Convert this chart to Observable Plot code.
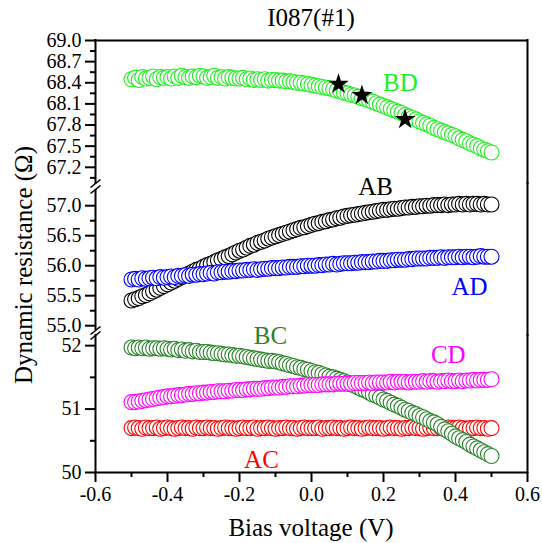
<!DOCTYPE html>
<html><head><meta charset="utf-8">
<script src="https://cdn.jsdelivr.net/npm/d3@7"></script>
<script src="https://cdn.jsdelivr.net/npm/@observablehq/plot@0.6"></script>
<style>
html,body{margin:0;padding:0;background:#fff;}
#wrap{position:relative;width:542px;height:543px;font-family:"Liberation Serif",serif;color:#000;overflow:hidden;}
#wrap svg{position:absolute;left:0;overflow:visible;background:transparent;}
.lbl{position:absolute;white-space:nowrap;font-family:"Liberation Serif",serif;}
</style></head>
<body>
<div id="wrap">
  <div class="lbl" style="left:211px;width:200px;text-align:center;top:3px;line-height:30px;font-size:25px;">I087(#1)</div>
  <div class="lbl" style="left:24px;top:265px;font-size:25px;line-height:30px;transform:translate(-50%,-50%) rotate(-90deg);">Dynamic resistance (Ω)</div>
  <div class="lbl" style="left:161px;width:300px;text-align:center;top:513px;line-height:30px;font-size:25px;">Bias voltage (V)</div>
</div>
<script>
const voltage = [
-0.50,-0.49,-0.48,-0.47,-0.46,-0.45,-0.44,-0.43,-0.42,-0.41,
-0.40,-0.39,-0.38,-0.37,-0.36,-0.35,-0.34,-0.33,-0.32,-0.31,
-0.30,-0.29,-0.28,-0.27,-0.26,-0.25,-0.24,-0.23,-0.22,-0.21,
-0.20,-0.19,-0.18,-0.17,-0.16,-0.15,-0.14,-0.13,-0.12,-0.11,
-0.10,-0.09,-0.08,-0.07,-0.06,-0.05,-0.04,-0.03,-0.02,-0.01,
0.00,0.01,0.02,0.03,0.04,0.05,0.06,0.07,0.08,0.09,
0.10,0.11,0.12,0.13,0.14,0.15,0.16,0.17,0.18,0.19,
0.20,0.21,0.22,0.23,0.24,0.25,0.26,0.27,0.28,0.29,
0.30,0.31,0.32,0.33,0.34,0.35,0.36,0.37,0.38,0.39,
0.40,0.41,0.42,0.43,0.44,0.45,0.46,0.47,0.48,0.49,
0.50];

const seriesBD = [
68.45,68.47,68.44,68.48,68.46,68.47,68.49,68.45,68.48,68.47,
68.48,68.46,68.49,68.47,68.50,68.48,68.47,68.49,68.48,68.50,
68.49,68.47,68.48,68.50,68.47,68.48,68.46,68.48,68.47,68.46,
68.46,68.47,68.45,68.46,68.44,68.45,68.44,68.45,68.43,68.44,
68.44,68.43,68.43,68.42,68.42,68.41,68.40,68.40,68.39,68.38,
68.37,68.36,68.35,68.34,68.33,68.32,68.31,68.29,68.28,68.26,
68.25,68.23,68.22,68.20,68.18,68.17,68.15,68.13,68.11,68.09,
68.07,68.05,68.03,68.01,67.99,67.97,67.94,67.92,67.90,67.88,
67.85,67.83,67.81,67.79,67.76,67.74,67.72,67.70,67.68,67.66,
67.64,67.61,67.59,67.57,67.54,67.52,67.50,67.47,67.45,67.43,
67.41];

const seriesAB = [
55.42,55.44,55.46,55.49,55.51,55.54,55.57,55.60,55.63,55.66,
55.69,55.72,55.75,55.78,55.81,55.84,55.87,55.90,55.93,55.95,
55.98,56.01,56.03,56.06,56.09,56.11,56.14,56.16,56.19,56.22,
56.25,56.27,56.30,56.33,56.35,56.38,56.40,56.42,56.45,56.47,
56.49,56.51,56.53,56.55,56.57,56.59,56.61,56.63,56.64,56.66,
56.68,56.70,56.71,56.73,56.74,56.76,56.77,56.79,56.80,56.82,
56.83,56.84,56.85,56.86,56.87,56.88,56.89,56.90,56.91,56.92,
56.93,56.93,56.94,56.95,56.95,56.96,56.97,56.97,56.98,56.98,
56.99,56.99,57.00,57.00,57.01,57.01,57.01,57.02,57.01,57.02,
57.02,57.03,57.02,57.03,57.02,57.03,57.03,57.02,57.03,57.02,
57.02];

const seriesAD = [
55.77,55.78,55.77,55.79,55.78,55.79,55.80,55.79,55.81,55.80,
55.81,55.82,55.81,55.83,55.83,55.84,55.83,55.85,55.85,55.86,
55.86,55.87,55.88,55.87,55.89,55.89,55.90,55.90,55.91,55.91,
55.92,55.92,55.93,55.93,55.94,55.93,55.94,55.95,55.95,55.96,
55.96,55.96,55.97,55.97,55.98,55.98,55.98,55.99,55.99,56.00,
56.00,56.00,56.01,56.01,56.02,56.02,56.03,56.02,56.03,56.04,
56.04,56.04,56.05,56.05,56.06,56.06,56.06,56.07,56.07,56.08,
56.08,56.08,56.09,56.09,56.10,56.10,56.10,56.11,56.11,56.12,
56.12,56.12,56.12,56.13,56.13,56.13,56.14,56.13,56.14,56.14,
56.14,56.15,56.14,56.15,56.15,56.14,56.15,56.16,56.15,56.15,
56.15];

const seriesBC = [
51.97,51.96,51.97,51.96,51.97,51.95,51.96,51.96,51.95,51.96,
51.95,51.94,51.95,51.93,51.94,51.92,51.93,51.91,51.92,51.90,
51.90,51.90,51.89,51.88,51.88,51.87,51.86,51.86,51.85,51.84,
51.84,51.83,51.82,51.81,51.80,51.79,51.78,51.77,51.76,51.76,
51.75,51.74,51.72,51.71,51.69,51.68,51.66,51.65,51.63,51.62,
51.60,51.58,51.57,51.55,51.53,51.51,51.50,51.48,51.46,51.44,
51.42,51.39,51.37,51.34,51.31,51.29,51.26,51.23,51.21,51.18,
51.15,51.13,51.10,51.07,51.05,51.02,50.99,50.97,50.94,50.92,
50.89,50.87,50.84,50.81,50.79,50.76,50.72,50.68,50.65,50.61,
50.57,50.54,50.51,50.48,50.44,50.41,50.38,50.35,50.32,50.29,
50.26];

const seriesCD = [
51.11,51.11,51.12,51.13,51.14,51.15,51.16,51.17,51.18,51.19,
51.20,51.20,51.21,51.22,51.22,51.23,51.24,51.24,51.25,51.25,
51.26,51.26,51.27,51.27,51.28,51.28,51.28,51.29,51.29,51.30,
51.30,51.30,51.31,51.31,51.32,51.32,51.32,51.33,51.33,51.34,
51.34,51.34,51.35,51.35,51.36,51.36,51.36,51.37,51.37,51.38,
51.38,51.38,51.38,51.39,51.39,51.39,51.39,51.40,51.40,51.40,
51.40,51.40,51.41,51.41,51.41,51.41,51.42,51.41,51.42,51.42,
51.42,51.42,51.43,51.42,51.43,51.43,51.43,51.42,51.43,51.43,
51.43,51.44,51.43,51.44,51.44,51.43,51.44,51.44,51.45,51.44,
51.44,51.45,51.44,51.45,51.45,51.46,51.45,51.46,51.46,51.46,
51.47];

const seriesAC = [
50.70,50.71,50.70,50.69,50.71,50.70,50.70,50.71,50.69,50.70,
50.71,50.70,50.69,50.70,50.71,50.70,50.70,50.69,50.71,50.70,
50.70,50.71,50.70,50.70,50.69,50.70,50.71,50.70,50.70,50.69,
50.70,50.71,50.70,50.70,50.71,50.69,50.70,50.70,50.71,50.70,
50.69,50.70,50.70,50.71,50.70,50.70,50.69,50.70,50.71,50.70,
50.70,50.70,50.71,50.69,50.70,50.70,50.71,50.70,50.70,50.69,
50.70,50.71,50.70,50.70,50.69,50.70,50.71,50.70,50.70,50.70,
50.69,50.70,50.71,50.70,50.70,50.69,50.70,50.70,50.71,50.70,
50.70,50.69,50.70,50.71,50.70,50.70,50.70,50.69,50.71,50.70,
50.70,50.71,50.70,50.69,50.70,50.70,50.71,50.70,50.70,50.69,
50.70];

const starVoltage = [0.075, 0.14, 0.26];
const starResistance = [68.38, 68.22, 67.88];

const seriesNames = ["BD", "AB", "AD", "BC", "CD", "AC"];
const seriesColors = ["#22ee22", "#000000", "#0000ff", "#2a822a", "#ff00ff", "#ff0000"];
const labelVoltage = [0.247, 0.178, 0.439, -0.114, 0.38, -0.139];
const labelResistance = [68.40, 57.32, 55.65, 52.15, 51.86, 50.20];

const xTicks = [-0.6, -0.4, -0.2, 0.0, 0.2, 0.4, 0.6];
const xMinor = [-0.5, -0.3, -0.1, 0.1, 0.3, 0.5];
const topTicks = [67.2, 67.5, 67.8, 68.1, 68.4, 68.7, 69.0];
const topMinor = [67.05, 67.35, 67.65, 67.95, 68.25, 68.55, 68.85];
const midTicks = [55.0, 55.5, 56.0, 56.5, 57.0];
const midMinor = [55.25, 55.75, 56.25, 56.75];
const botTicks = [50, 51, 52];
const botMinor = [50.5, 51.5];

const W = 542, ML = 95, MR = 15;
const xDomain = [-0.6, 0.6];
const FONT = "Liberation Serif";
const TICKFONT = 20;
const seriesData = {BD: seriesBD, AB: seriesAB, AD: seriesAD, BC: seriesBC, CD: seriesCD, AC: seriesAC};
const rows = name => voltage.map((v, i) => ({v, r: seriesData[name][i]}));
const colorOf = name => seriesColors[seriesNames.indexOf(name)];
const labelRows = names => names.map(n => {
  const i = seriesNames.indexOf(n);
  return {name: n, v: labelVoltage[i], r: labelResistance[i], c: seriesColors[i]};
});

function dots(name) {
  return Plot.dot(rows(name), {x: "v", y: "r", r: 7.5, stroke: colorOf(name), fill: "white", strokeWidth: 1.1});
}
function labels(names) {
  return Plot.text(labelRows(names), {x: "v", y: "r", text: "name", fill: "c", fontSize: 25, fontFamily: FONT});
}
// small diagonal break mark on the left axis at a given y value
function breakMark(yv, pxPerUnit) {
  const dx = 5 / ((W - ML - MR) / 1.2), dy = 4 / pxPerUnit;
  return Plot.link([{y: yv}], {x1: () => xDomain[0] - dx, x2: () => xDomain[0] + dx,
    y1: d => d.y - dy, y2: d => d.y + dy, stroke: "black", strokeWidth: 1.6});
}
function yAxes(major, minor, fmt) {
  return [
    Plot.axisY(major, {tickSize: 10, tickPadding: 4, tickFormat: fmt, strokeWidth: 2, fontSize: TICKFONT, fontFamily: FONT, label: null}),
    Plot.axisY(minor, {tickSize: 5, tickFormat: () => "", strokeWidth: 2, label: null})
  ];
}
const baseStyle = {fontFamily: FONT, fontSize: TICKFONT + "px", background: "transparent", overflow: "visible", color: "black"};
const wrap = document.getElementById("wrap");

// Top panel (BD)
const topDomain = [66.97, 69.0];
const p1 = Plot.plot({
  width: W, height: 183, marginTop: 40, marginBottom: 0, marginLeft: ML, marginRight: MR,
  style: baseStyle,
  x: {domain: xDomain, axis: null},
  y: {domain: topDomain},
  marks: [
    ...yAxes(topTicks, topMinor, d => d.toFixed(1)),
    dots("BD"),
    Plot.dot(starVoltage.map((v, i) => ({v, r: starResistance[i]})), {x: "v", y: "r", symbol: "star", r: 6.5, fill: "black"}),
    labels(["BD"]),
    Plot.ruleX([xDomain[0]], {strokeWidth: 2, strokeLinecap: "square"}),
    Plot.ruleX([xDomain[1]], {strokeWidth: 2, strokeLinecap: "square"}),
    Plot.ruleY([topDomain[1]], {strokeWidth: 2, strokeLinecap: "square"}),
    breakMark(topDomain[0], 143 / (topDomain[1] - topDomain[0]))
  ]
});
p1.style.top = "0px";
wrap.appendChild(p1);

// Middle panel (AB, AD)
const midDomain = [54.92, 57.27];
const midK = 141 / (midDomain[1] - midDomain[0]);
const p2 = Plot.plot({
  width: W, height: 147, marginTop: 6, marginBottom: 0, marginLeft: ML, marginRight: MR,
  style: baseStyle,
  x: {domain: xDomain, axis: null},
  y: {domain: midDomain},
  marks: [
    ...yAxes(midTicks, midMinor, d => d.toFixed(1)),
    dots("AB"),
    dots("AD"),
    labels(["AB", "AD"]),
    Plot.ruleX([xDomain[0]], {strokeWidth: 2}),
    Plot.ruleX([xDomain[1]], {y1: midDomain[0] - 6 / midK, y2: midDomain[1] + 7 / midK, strokeWidth: 2}),
    breakMark(midDomain[1], midK),
    breakMark(midDomain[0], midK)
  ]
});
p2.style.top = "183px";
wrap.appendChild(p2);

// Bottom panel (AC, BC, CD)
const botDomain = [50, 52.16];
const botK = 137 / (botDomain[1] - botDomain[0]);
const p3 = Plot.plot({
  width: W, height: 213, marginTop: 5, marginBottom: 71, marginLeft: ML, marginRight: MR,
  style: baseStyle,
  x: {domain: xDomain},
  y: {domain: botDomain},
  marks: [
    ...yAxes(botTicks, botMinor, d => d.toFixed(0)),
    Plot.axisX(xTicks, {tickSize: 10, tickPadding: 4, tickFormat: d => d.toFixed(1), strokeWidth: 2, fontSize: TICKFONT, fontFamily: FONT, label: null}),
    Plot.axisX(xMinor, {tickSize: 5, tickFormat: () => "", strokeWidth: 2, label: null}),
    dots("AC"),
    dots("BC"),
    dots("CD"),
    labels(["BC", "CD", "AC"]),
    Plot.ruleX([xDomain[0]], {strokeWidth: 2, strokeLinecap: "square"}),
    Plot.ruleX([xDomain[1]], {strokeWidth: 2, strokeLinecap: "square"}),
    Plot.ruleY([botDomain[0]], {strokeWidth: 2, strokeLinecap: "square"}),
    breakMark(botDomain[1], botK)
  ]
});
p3.style.top = "330px";
wrap.appendChild(p3);
</script>
</body></html>
